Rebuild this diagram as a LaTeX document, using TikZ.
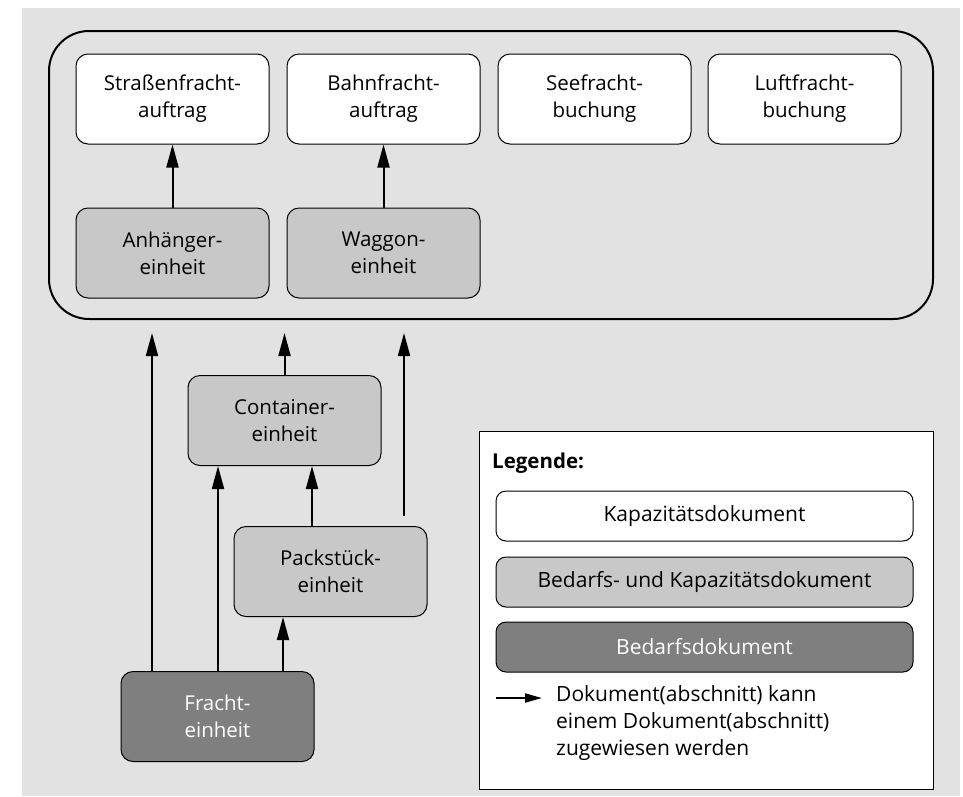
\documentclass[tikz,border=0pt]{standalone}
\usepackage{fontspec}
\setmainfont{Open Sans}
\usetikzlibrary{arrows.meta}
\definecolor{bggrey}{HTML}{E2E2E2}
\definecolor{midgrey}{HTML}{C8C8C8}
\definecolor{darkgrey}{HTML}{7F7F7F}
\begin{document}
\begin{tikzpicture}[x=1pt,y=-1pt,
  box/.style={draw=black,line width=1pt,rounded corners=12pt,minimum width=193pt,minimum height=90pt,align=center,inner sep=0pt,font=\fontsize{20.5}{27}\selectfont},
  kap/.style={box,fill=white},
  bedkap/.style={box,fill=midgrey},
  bed/.style={box,fill=darkgrey,text=white},
  legbox/.style={draw=black,line width=1pt,rounded corners=10pt,minimum width=417pt,minimum height=50pt,inner sep=0pt,font=\fontsize{21}{27}\selectfont},
  arr/.style={line width=2pt,-{Triangle[length=23pt,width=12pt]}},
  legarr/.style={line width=2pt,-{Triangle[length=17pt,width=9pt]}}]
\useasboundingbox (0,0) rectangle (963,796);
\fill[bggrey] (22,8) rectangle (960,796);
% outer container
\draw[line width=2pt,rounded corners=40pt] (49,31) rectangle (933,319);
\node[kap] (strasse) at (172.5,99) {Straßenfracht-\\auftrag};
\node[kap] (bahn) at (383.5,99) {Bahnfracht-\\auftrag};
\node[kap] (see) at (594.5,99) {Seefracht-\\buchung};
\node[kap] (luft) at (804.5,99) {Luftfracht-\\buchung};
\node[bedkap] (anh) at (172.5,253) {Anhänger-\\einheit};
\node[bedkap] (wag) at (383.5,253) {Waggon-\\einheit};
\draw[arr] (anh) -- (strasse);
\draw[arr] (wag) -- (bahn);
% lower part
\node[bedkap] (cont) at (284.5,420.5) {Container-\\einheit};
\node[bedkap] (pack) at (330.5,571.5) {Packstück-\\einheit};
\node[bed] (fracht) at (217.5,716.5) {Fracht-\\einheit};
\coordinate (t1) at (152,333);
\coordinate (t2) at (284.5,333);
\coordinate (t3) at (404,333);
\coordinate (s3) at (404,516);
\coordinate (xa) at (218,0);
\coordinate (xb) at (312,0);
\coordinate (xc) at (283,0);
\draw[arr] (fracht.north -| t1) -- (t1);
\draw[arr] (cont.north) -- (t2);
\draw[arr] (s3) -- (t3);
\draw[arr] (fracht.north -| xa) -- (cont.south -| xa);
\draw[arr] (pack.north -| xb) -- (cont.south -| xb);
\draw[arr] (fracht.north -| xc) -- (pack.south -| xc);
% legend
\node[draw=black,line width=1pt,fill=white,minimum width=454pt,minimum height=358pt,inner sep=0pt] (legend) at (706,610) {};
\node[anchor=west,inner sep=0pt,font=\fontsize{20.5}{27}\selectfont\bfseries] (legt) at (492,463) {Legende:};
\node[legbox,fill=white] (l1) at (704.5,516) {Kapazitätsdokument};
\node[legbox,fill=midgrey] (l2) at (704.5,582) {Bedarfs- und Kapazitätsdokument};
\node[legbox,fill=darkgrey,text=white] (l3) at (704.5,647) {Bedarfsdokument};
\coordinate (la) at (496,698);
\coordinate (lb) at (542,698);
\draw[legarr] (la) -- (lb);
\node[anchor=north west,inner sep=0pt,align=left,font=\fontsize{21}{27}\selectfont] (ltext) at (556,685) {Dokument(abschnitt) kann\\einem Dokument(abschnitt)\\zugewiesen werden};
\end{tikzpicture}
\end{document}
